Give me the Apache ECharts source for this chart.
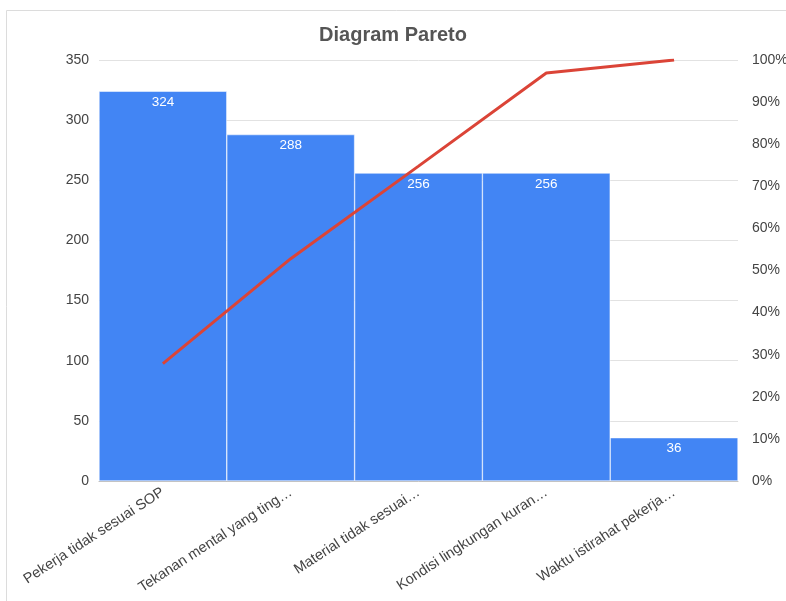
<!DOCTYPE html>
<html><head><meta charset="utf-8">
<script src="https://cdn.jsdelivr.net/npm/echarts@6/dist/echarts.min.js"></script>
<style>html,body{margin:0;padding:0;background:#fff}#c{width:786px;height:601px}</style>
</head><body><div id="c"></div>
<script>
const categories = ['Pekerja tidak sesuai SOP','Tekanan mental yang ting…','Material tidak sesuai…','Kondisi lingkungan kuran…','Waktu istirahat pekerja…'];
const counts = [324, 288, 256, 256, 36];
const cumulativePct = [27.9, 52.8, 74.8, 96.9, 100];
const leftTicks = {min: 0, max: 350, interval: 50};
const rightTicks = {min: 0, max: 100, interval: 10};

const chart = echarts.init(document.getElementById('c'), null, {renderer: 'canvas'});
chart.setOption({
  animation: false,
  backgroundColor: '#fff',
  textStyle: {fontFamily: 'Liberation Sans, Arial, sans-serif'},
  graphic: [{type: 'rect', shape: {x: 6.5, y: 10.5, width: 900, height: 700}, style: {fill: 'none', stroke: '#dcdcdc', lineWidth: 1}, silent: true, z: -1}],
  title: {text: 'Diagram Pareto', left: 'center', top: 20, textStyle: {fontSize: 20, fontWeight: 'bold', color: '#555', fontFamily: 'Liberation Sans, Arial, sans-serif'}},
  grid: {left: 99, right: 48, top: 60, bottom: 120, containLabel: false, outerBoundsMode: 'none'},
  xAxis: {
    type: 'category', data: categories,
    axisLine: {lineStyle: {color: '#bbb'}}, axisTick: {show: false},
    axisLabel: {rotate: 33, color: '#444', fontSize: 14.5, margin: 10, interval: 0}
  },
  yAxis: [
    {type: 'value', min: leftTicks.min, max: leftTicks.max, interval: leftTicks.interval,
     axisLabel: {color: '#444', fontSize: 14, margin: 10},
     splitLine: {lineStyle: {color: '#e2e2e2'}}, axisLine: {show: false}, axisTick: {show: false}},
    {type: 'value', min: rightTicks.min, max: rightTicks.max, interval: rightTicks.interval,
     axisLabel: {color: '#444', fontSize: 14, formatter: '{value}%', margin: 14},
     splitLine: {show: false}, axisLine: {show: false}, axisTick: {show: false}}
  ],
  series: [
    {type: 'bar', data: counts, barCategoryGap: '0%', yAxisIndex: 0,
     itemStyle: {color: '#4285f4', borderColor: '#fff', borderWidth: 0.5},
     label: {show: true, position: 'insideTop', distance: 4, color: '#fff', fontSize: 13.5}},
    {type: 'line', data: cumulativePct, yAxisIndex: 1, symbol: 'none',
     lineStyle: {color: '#db4437', width: 3}}
  ]
});
</script></body></html>
